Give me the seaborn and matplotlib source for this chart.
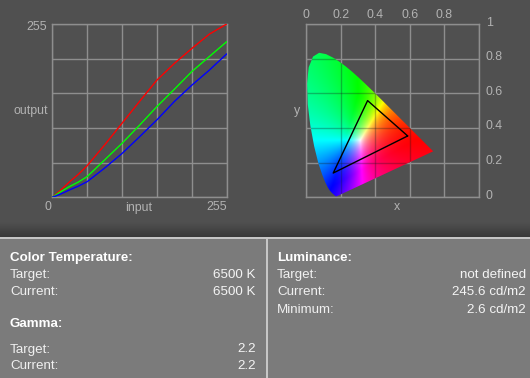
import numpy as np
import pandas as pd
import matplotlib
matplotlib.use("Agg")
import matplotlib.pyplot as plt
import seaborn as sns
from matplotlib.patches import Polygon, Rectangle
from matplotlib.transforms import ScaledTranslation
from matplotlib.colors import LinearSegmentedColormap

# ---------------- data ----------------
input_levels = [0, 12.75, 25.5, 38.25, 51, 76.5, 102, 127.5, 153, 178.5, 204, 229.5, 255]
red_out = [0, 11, 23, 34, 46.5, 77, 109, 141, 172.5, 197, 219, 240, 255]
green_out = [0, 8.5, 16, 22.5, 30.5, 55, 79.5, 106, 133.5, 159, 185, 207, 229]
blue_out = [0, 5, 11, 16.5, 23, 43, 64.5, 89, 114, 141, 165, 187, 211]

# CIE 1931 spectral locus (x, y), 380-700 nm
locus_x = [0.1741, 0.1740, 0.1738, 0.1736, 0.1733, 0.1730, 0.1726, 0.1721, 0.1714, 0.1703,
           0.1689, 0.1669, 0.1644, 0.1611, 0.1566, 0.1510, 0.1440, 0.1355, 0.1241, 0.1096,
           0.0913, 0.0687, 0.0454, 0.0235, 0.0082, 0.0039, 0.0139, 0.0389, 0.0743, 0.1142,
           0.1547, 0.1929, 0.2296, 0.2658, 0.3016, 0.3373, 0.3731, 0.4087, 0.4441, 0.4788,
           0.5125, 0.5448, 0.5752, 0.6029, 0.6270, 0.6482, 0.6658, 0.6801, 0.6915, 0.7006,
           0.7079, 0.7140, 0.7190, 0.7230, 0.7260, 0.7283, 0.7300, 0.7311, 0.7320, 0.7347]
locus_y = [0.0050, 0.0050, 0.0049, 0.0049, 0.0048, 0.0048, 0.0048, 0.0048, 0.0051, 0.0058,
           0.0069, 0.0086, 0.0109, 0.0138, 0.0177, 0.0227, 0.0297, 0.0399, 0.0578, 0.0868,
           0.1327, 0.2007, 0.2950, 0.4127, 0.5384, 0.6548, 0.7502, 0.8120, 0.8338, 0.8262,
           0.8059, 0.7816, 0.7543, 0.7243, 0.6923, 0.6589, 0.6245, 0.5896, 0.5547, 0.5202,
           0.4866, 0.4544, 0.4242, 0.3965, 0.3725, 0.3514, 0.3340, 0.3197, 0.3083, 0.2993,
           0.2920, 0.2859, 0.2809, 0.2770, 0.2740, 0.2717, 0.2700, 0.2689, 0.2680, 0.2653]

gamut_x = [0.587, 0.355, 0.156]
gamut_y = [0.354, 0.558, 0.140]

gamma_ticks = [0, 51, 102, 153, 204, 255]
cie_ticks = [0, 0.2, 0.4, 0.6, 0.8, 1.0]
cie_top_labels = ["0", "0.2", "0.4", "0.6", "0.8", ""]
cie_right_labels = ["0", "0.2", "0.4", "0.6", "0.8", "1"]

left_rows = [("Color Temperature:", None, True, 258),
             ("Target:", "6500 K", False, 275.3),
             ("Current:", "6500 K", False, 291.7),
             ("Gamma:", None, True, 323.8),
             ("Target:", "2.2", False, 349.5),
             ("Current:", "2.2", False, 366)]
right_rows = [("Luminance:", None, True, 258),
              ("Target:", "not defined", False, 275.3),
              ("Current:", "245.6 cd/m2", False, 291.7),
              ("Minimum:", "2.6 cd/m2", False, 310)]

# ---------------- style ----------------
sns.set_theme(style="dark")
plt.rcParams["font.family"] = ["Liberation Sans", "DejaVu Sans"]

BG = "#505050"
GRID = "#8e8e8e"
TICK = "#b2b2b2"
PANEL = "#7b7b7b"

W, H = 530, 378
fig = plt.figure(figsize=(5.3, 3.78), dpi=100, facecolor=BG)


def rect(l, t, r, b):
    return [l / W, 1 - b / H, (r - l) / W, (b - t) / H]


bg = fig.add_axes([0, 0, 1, 1], zorder=0)
bg.axis("off")
bg.set_facecolor(BG)

cm = LinearSegmentedColormap.from_list("g", [BG, "#3a3a3a"])
grad = np.linspace(0, 1, 32)[:, None]
bg.imshow(grad, cmap=cm, extent=[0, W, 237, 222], aspect="auto", zorder=1)
bg.add_patch(Rectangle((0, 239), W, H - 239, color=PANEL, zorder=1, lw=0))
bg.add_patch(Rectangle((0, 237), W, 2.2, color="#c6c6c6", zorder=2, lw=0))
bg.add_patch(Rectangle((266, 239), 2, H - 239, color="#c6c6c6", zorder=2, lw=0))
bg.set_xlim(0, W)
bg.set_ylim(H, 0)

FS = 9.6
for lab, val, bold, y in left_rows:
    bg.text(10, y, lab, color="#ffffff" if bold else "#f0f0f0", fontsize=FS,
            fontweight="bold" if bold else "normal", va="center", ha="left", zorder=3)
    if val:
        bg.text(255.5, y, val, color="#f4f4f4", fontsize=FS, va="center", ha="right", zorder=3)
for lab, val, bold, y in right_rows:
    bg.text(277, y, lab, color="#ffffff" if bold else "#f0f0f0", fontsize=FS,
            fontweight="bold" if bold else "normal", va="center", ha="left", zorder=3)
    if val:
        bg.text(526, y, val, color="#f4f4f4", fontsize=FS, va="center", ha="right", zorder=3)

LFS = 8.9
bg.text(47, 27, "255", color=TICK, fontsize=LFS, ha="right", va="center")
bg.text(47.5, 111, "output", color=TICK, fontsize=LFS, ha="right", va="center")
bg.text(47.7, 207.5, "0", color=TICK, fontsize=LFS, ha="center", va="center")
bg.text(139, 207.5, "input", color=TICK, fontsize=LFS, ha="center", va="center")
bg.text(227, 207.5, "255", color=TICK, fontsize=LFS, ha="right", va="center")
bg.text(397, 207.5, "x", color=TICK, fontsize=LFS, ha="center", va="center")
bg.text(297.3, 111, "y", color=TICK, fontsize=LFS, ha="center", va="center")

# ---------------- gamma curves ----------------
ax1 = fig.add_axes(rect(52.3, 24, 226.7, 197.3), zorder=1)
ax1.set_facecolor(BG)
n = len(input_levels)
df = pd.DataFrame({
    "input": input_levels * 3,
    "output": red_out + green_out + blue_out,
    "channel": ["red"] * n + ["green"] * n + ["blue"] * n,
})
sns.lineplot(data=df, x="input", y="output", hue="channel",
             palette={"red": "#ff0000", "green": "#00ff00", "blue": "#0000ff"},
             ax=ax1, legend=False, linewidth=1.0, estimator=None, zorder=3)
ax1.set_xlim(0, 255)
ax1.set_ylim(0, 255)
ax1.set_xticks(gamma_ticks)
ax1.set_yticks(gamma_ticks)
ax1.set_xticklabels([])
ax1.set_yticklabels([])
ax1.set_xlabel("")
ax1.set_ylabel("")
ax1.tick_params(length=0)
ax1.grid(True, color=GRID, lw=1)
ax1.set_axisbelow(True)
for s in ax1.spines.values():
    s.set_color(GRID)
    s.set_linewidth(1)

# ---------------- CIE diagram ----------------
ax2 = fig.add_axes(rect(306.3, 24, 479, 197.3), zorder=1)
ax2.set_facecolor(BG)

xs = np.linspace(0, 0.8, 400)
ys = np.linspace(0.001, 0.9, 450)
X, Y = np.meshgrid(xs, ys)
Z = 1 - X - Y
XYZ = np.stack([X, Y, Z], axis=-1)
M = np.array([[3.2406, -1.5372, -0.4986],
              [-0.9689, 1.8758, 0.0415],
              [0.0557, -0.2040, 1.0570]])
rgb = XYZ @ M.T
mn = rgb.min(axis=-1, keepdims=True)
rgb = rgb - np.minimum(mn, 0)
rgb = rgb / np.maximum(rgb.max(axis=-1, keepdims=True), 1e-9)
rgb = np.clip(rgb, 0, 1) ** 1.25

im = ax2.imshow(rgb, extent=[0, 0.8, 0.001, 0.9], origin="lower", aspect="auto",
                interpolation="bilinear", zorder=2)
poly = Polygon(np.column_stack([locus_x, locus_y]), closed=True, fill=False, lw=0,
               transform=ax2.transData)
ax2.add_patch(poly)
im.set_clip_path(poly)

ax2.set_xlim(0, 1)
ax2.set_ylim(0, 1)
ax2.xaxis.tick_top()
ax2.yaxis.tick_right()
ax2.set_xticks(cie_ticks)
ax2.set_yticks(cie_ticks)
ax2.set_xticklabels(cie_top_labels)
ax2.set_yticklabels(cie_right_labels)
ax2.tick_params(length=0, colors=TICK, labelsize=LFS)
ax2.tick_params(axis="x", pad=2.2)
ax2.tick_params(axis="y", pad=4.8)
for lab in ax2.get_yticklabels():
    lab.set_transform(lab.get_transform() + ScaledTranslation(0, 3 / 100, fig.dpi_scale_trans))
ax2.grid(True, color=GRID, lw=1)
ax2.set_axisbelow(True)

for v in cie_ticks[1:-1]:
    l1 = ax2.axvline(v, color="k", alpha=0.3, lw=1, zorder=3)
    l1.set_clip_path(poly)
    l2 = ax2.axhline(v, color="k", alpha=0.3, lw=1, zorder=3)
    l2.set_clip_path(poly)

ax2.plot(gamut_x + gamut_x[:1], gamut_y + gamut_y[:1], color="black", lw=1, zorder=4)

for s in ax2.spines.values():
    s.set_color(GRID)
    s.set_linewidth(1)

fig.savefig("out.png", dpi=100, facecolor=BG)
